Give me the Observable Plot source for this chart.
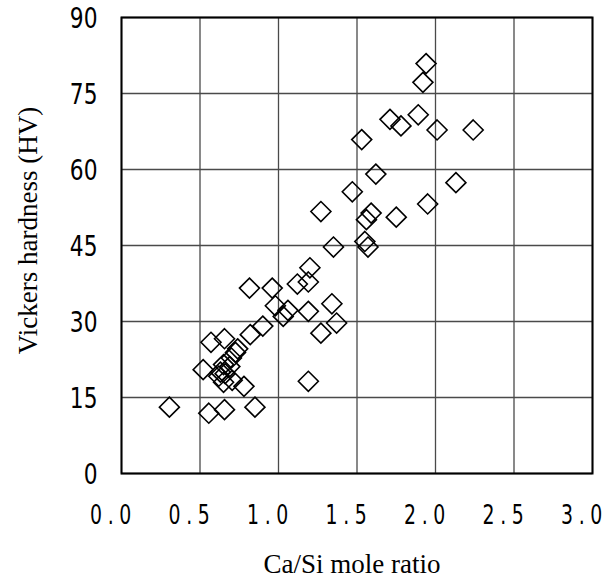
<!DOCTYPE html>
<html>
<head>
<meta charset="utf-8">
<script src="https://cdn.jsdelivr.net/npm/d3@7"></script>
<script src="https://cdn.jsdelivr.net/npm/@observablehq/plot@0.6"></script>
<style>
  html, body { margin: 0; padding: 0; background: #fff; }
  #chart svg { display: block; }
</style>
</head>
<body>
<div id="chart"></div>
<script>
// Ca/Si mole ratio
const caSi = [
  1.94, 1.92, 1.71, 1.78, 1.89, 2.01, 2.24, 1.53, 1.62, 2.13,
  1.47, 1.95, 1.27, 1.59, 1.56, 1.75, 1.35, 1.55, 1.57, 1.20,
  1.12, 1.19, 0.815, 0.96, 0.98, 1.06, 1.03, 1.19, 1.34, 1.37,
  1.27, 0.90, 0.82, 0.57, 0.656, 0.74, 0.726, 0.52, 0.65, 0.69,
  0.63, 0.66, 0.65, 0.705, 0.78, 1.19, 0.305, 0.556, 0.656, 0.85,
  0.70, 0.62
];
// Vickers hardness (HV)
const hv = [
  80.9, 77.2, 69.9, 68.6, 70.8, 67.8, 67.8, 65.9, 59.1, 57.4,
  55.6, 53.2, 51.7, 51.4, 50.1, 50.6, 44.7, 45.8, 44.7, 40.6,
  37.4, 37.8, 36.6, 36.6, 33.1, 32.2, 31.0, 32.0, 33.5, 29.7,
  27.7, 29.1, 27.4, 25.9, 26.6, 24.6, 23.9, 20.5, 21.5, 21.1,
  20.0, 19.7, 18.0, 18.4, 17.2, 18.2, 13.1, 11.9, 12.6, 13.1,
  22.8, 19.2
];
const xTicks = [0, 0.5, 1, 1.5, 2, 2.5, 3];
const yTicks = [0, 15, 30, 45, 60, 75, 90];
const xTitle = "Ca/Si mole ratio";
const yTitle = "Vickers hardness (HV)";

const points = caSi.map((x, i) => ({x, y: hv[i]}));

const diamond = {
  draw(ctx, size) {
    const r = Math.sqrt(size / Math.PI) * 1.25;
    ctx.moveTo(0, -r);
    ctx.lineTo(r, 0);
    ctx.lineTo(0, r);
    ctx.lineTo(-r, 0);
    ctx.closePath();
  }
};

const tickFont = "'DejaVu Sans', sans-serif";

const chart = Plot.plot({
  width: 608,
  height: 578,
  marginLeft: 121,
  marginRight: 16,
  marginTop: 17,
  marginBottom: 105,
  style: {background: "#fff", color: "#000", overflow: "visible"},
  x: {domain: [0, 3]},
  y: {domain: [0, 90]},
  marks: [
    Plot.gridX(xTicks, {stroke: "#4a4a4a", strokeOpacity: 1, strokeWidth: 1.3}),
    Plot.gridY(yTicks, {stroke: "#4a4a4a", strokeOpacity: 1, strokeWidth: 1.3}),
    Plot.frame({stroke: "#000", strokeWidth: 2}),
    Plot.axisX(xTicks, {
      tickSize: 0, tickPadding: 0, dy: 31, dx: -8,
      tickFormat: d => d.toFixed(1),
      fontSize: 27, fontFamily: tickFont,
      stroke: "#000", strokeWidth: 0.4,
      label: null
    }),
    Plot.axisY(yTicks, {
      tickSize: 0, tickPadding: 24, dy: 1,
      fontSize: 29, fontFamily: tickFont,
      stroke: "#000", strokeWidth: 0.4,
      label: null
    }),
    Plot.text([xTitle], {
      frameAnchor: "bottom", dy: 99, dx: -5,
      fontSize: 27, fontFamily: "'Liberation Serif', 'Times New Roman', serif",
      fill: "#000"
    }),
    Plot.text([yTitle], {
      frameAnchor: "left", textAnchor: "middle", dx: -93, dy: -15, rotate: -90,
      fontSize: 27, fontFamily: "'Liberation Serif', 'Times New Roman', serif",
      fill: "#000"
    }),
    Plot.dot(points, {
      x: "x", y: "y", symbol: diamond, r: 8,
      stroke: "#000", strokeWidth: 1.6, fill: "none"
    })
  ]
});
function condense(sel, sx, spacing) {
  chart.querySelectorAll(sel).forEach(t => {
    const tr = t.getAttribute("transform") || "";
    if (tr) {
      t.setAttribute("transform", tr + ` scale(${sx},1)`);
    } else {
      const x = +(t.getAttribute("x") || 0), y = +(t.getAttribute("y") || 0);
      t.removeAttribute("x"); t.removeAttribute("y");
      t.setAttribute("transform", `translate(${x},${y}) scale(${sx},1)`);
    }
    if (spacing) t.setAttribute("letter-spacing", spacing);
  });
}
condense('g[aria-label="x-axis tick label"] text', 0.7, 8);
condense('g[aria-label="y-axis tick label"] text', 0.75, 0);
document.getElementById("chart").appendChild(chart);
</script>
</body>
</html>
